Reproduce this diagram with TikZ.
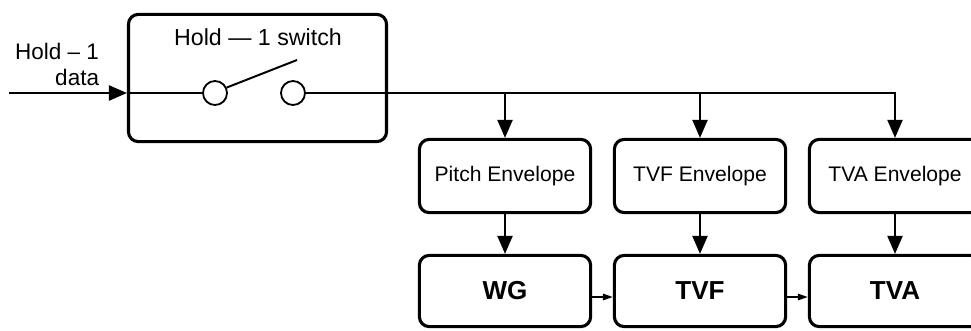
\documentclass[tikz,border=0pt]{standalone}
\usepackage{fontspec}
\setmainfont{Liberation Sans}
\usetikzlibrary{positioning}
\usetikzlibrary{arrows.meta}

\begin{document}
\begin{tikzpicture}[x=0.025cm, y=-0.025cm,
    every node/.style={font=\fontsize{15}{18}\selectfont},
    envbox/.style={draw, line width=2.2pt, rounded corners=7pt, minimum width=4.28cm, minimum height=1.83cm},
    unitbox/.style={envbox, minimum height=1.78cm, font=\fontsize{18.5}{22}\selectfont\bfseries},
    contact/.style={draw, circle, line width=1.3pt, fill=white, minimum size=0.6cm, inner sep=0pt},
    feed/.style={line width=1.2pt, -{Triangle[length=0.45cm, width=0.38cm]}},
    link/.style={line width=1.2pt, -{Triangle[length=0.25cm, width=0.16cm]}}]
    \useasboundingbox (0,0) rectangle (971,330);
    \clip (0,0) rectangle (971,330);

    % hold switch
    \node[envbox, minimum width=6.45cm, minimum height=3.18cm] (swbox) at (257.5,78) {};
    \node[font=\fontsize{16.5}{19}\selectfont] (swtitle) at (258,37) {Hold — 1 switch};
    \node[contact] (swA) at (215,93) {};
    \node[contact] (swB) at (293,93) {};
    \coordinate (lever) at (297,60);
    \node[align=right, anchor=east, font=\fontsize{16}{18.5}\selectfont] (inlabel) at (104,64) {Hold – 1\\data};
    \coordinate (inlet) at (9,93);

    % envelopes and units
    \node[envbox] (pitchenv) at (505,176) {Pitch Envelope};
    \node[envbox] (tvfenv) at (700,176) {TVF Envelope};
    \node[envbox] (tvaenv) at (895,176) {TVA Envelope};
    \node[unitbox] (wg) at (505,291) {WG};
    \node[unitbox] (tvf) at (700,291) {TVF};
    \node[unitbox] (tva) at (895,291) {TVA};

    % connectors
    \draw[feed] (inlet) -- (swbox.west |- swA);
    \draw[line width=1.2pt] (swbox.west |- swA) -- (swA.west);
    \draw[line width=1.4pt] (swA.25) -- (lever);
    \coordinate (bus) at (tvaenv.north |- swB);
    \draw[feed] (swB.east) -- (bus) -- (tvaenv.north);
    \draw[feed] (pitchenv.north |- swB) -- (pitchenv.north);
    \draw[feed] (tvfenv.north |- swB) -- (tvfenv.north);
    \draw[feed] (pitchenv.south) -- (wg.north);
    \draw[feed] (tvfenv.south) -- (tvf.north);
    \draw[feed] (tvaenv.south) -- (tva.north);
    \draw[link] ([yshift=-0.15cm]wg.east) -- ([yshift=-0.15cm]tvf.west);
    \draw[link] ([yshift=-0.15cm]tvf.east) -- ([yshift=-0.15cm]tva.west);
\end{tikzpicture}
\end{document}
